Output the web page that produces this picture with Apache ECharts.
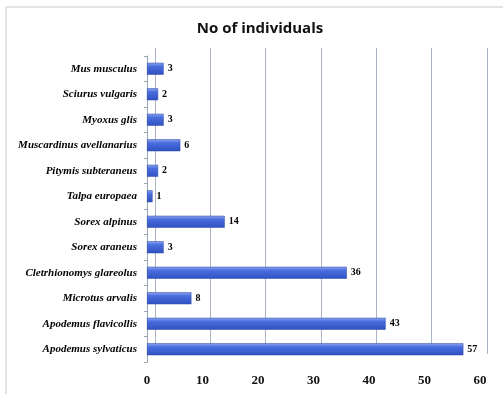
<!DOCTYPE html>
<html>
<head>
<meta charset="utf-8">
<script src="https://cdn.jsdelivr.net/npm/echarts@6/dist/echarts.min.js"></script>
<style>
  html, body { margin: 0; padding: 0; background: #fff; }
  #main { width: 503px; height: 394px; }
</style>
</head>
<body>
<div id="main"></div>
<script>
// species, bottom to top (category axis draws first item at the bottom)
var species = [
  'Apodemus sylvaticus', 'Apodemus flavicollis', 'Microtus arvalis',
  'Cletrhionomys glareolus', 'Sorex araneus', 'Sorex alpinus',
  'Talpa europaea', 'Pitymis subteraneus', 'Muscardinus avellanarius',
  'Myoxus glis', 'Sciurus vulgaris', 'Mus musculus'
];
var individuals = [57, 43, 8, 36, 3, 14, 1, 2, 6, 3, 2, 3];
var xTicks = [0, 10, 20, 30, 40, 50, 60];

var myChart = echarts.init(document.getElementById('main'));

var barColor = new echarts.graphic.LinearGradient(0, 0, 0, 1, [
  { offset: 0, color: '#90a8f0' },
  { offset: 0.3, color: '#4a6ede' },
  { offset: 1, color: '#3050c0' }
]);

var option = {
  backgroundColor: '#fff',
  title: {
    text: 'No of individuals',
    left: 255,
    top: 16,
    textAlign: 'center',
    textStyle: { fontFamily: 'Open Sans', fontWeight: 'bold', fontSize: 15, color: '#111' }
  },
  graphic: [{
    type: 'rect',
    shape: { x: 6, y: 7, width: 520, height: 420 },
    style: { fill: 'none', stroke: '#c8c8c8', lineWidth: 1 },
    z: -1
  }],
  grid: [
    { left: 147, right: 23, top: 56, bottom: 32 },
    // back wall, shifted for the 3D look
    { left: 155, right: 16, top: 48, bottom: 40 }
  ],
  xAxis: [{
    gridIndex: 0,
    type: 'value',
    min: 0, max: 60, interval: 10,
    axisLine: { show: false },
    axisTick: { show: false },
    splitLine: { show: false },
    axisLabel: {
      margin: 12,
      fontFamily: 'Liberation Serif', fontWeight: 'bold', fontSize: 13, color: '#111',
      formatter: function (v) { return xTicks.indexOf(v) >= 0 ? String(v) : ''; }
    }
  }, {
    gridIndex: 1,
    type: 'value',
    min: 0, max: 60, interval: 10,
    axisLine: { show: false },
    axisTick: { show: false },
    axisLabel: { show: false },
    splitLine: { show: true, lineStyle: { color: '#a9b3c4', width: 1 } }
  }],
  yAxis: [{
    gridIndex: 0,
    type: 'category',
    data: species,
    axisLine: { show: true, lineStyle: { color: '#9aa3b3' } },
    axisTick: { show: true, length: 3, lineStyle: { color: '#9aa3b3' } },
    axisLabel: {
      margin: 10,
      fontFamily: 'Liberation Serif', fontStyle: 'italic', fontWeight: 'bold',
      fontSize: 11, color: '#000'
    }
  }, {
    gridIndex: 1,
    type: 'category',
    data: species,
    axisLine: { show: false },
    axisTick: { show: false },
    axisLabel: { show: false }
  }],
  series: [{
    type: 'bar',
    xAxisIndex: 0,
    yAxisIndex: 0,
    data: individuals,
    barWidth: 12,
    itemStyle: {
      color: barColor,
      borderColor: '#2a48a8',
      borderWidth: 0.5
    },
    label: {
      show: true,
      position: 'right',
      distance: 4,
      fontFamily: 'Liberation Serif', fontWeight: 'bold', fontSize: 10, color: '#000'
    },
    z: 3
  }]
};

myChart.setOption(option);
</script>
</body>
</html>
